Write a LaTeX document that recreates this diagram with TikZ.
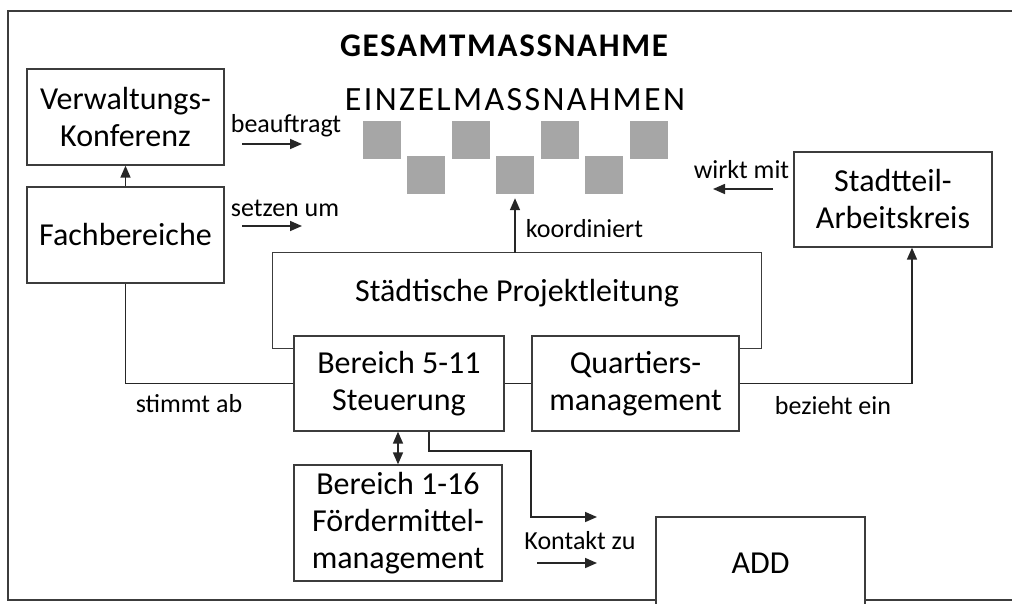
\documentclass[tikz,border=0pt]{standalone}
\usepackage{fontspec}
\setmainfont{Carlito}
\newfontfamily\titlefont[LetterSpace=5]{Carlito}
\newfontfamily\capsfont[LetterSpace=7]{Carlito}
\usepackage{tikz}
\usetikzlibrary{arrows.meta,positioning}
\definecolor{sqgray}{HTML}{A6A6A6}
\definecolor{linegray}{HTML}{3C3C3C}

\begin{document}
\begin{tikzpicture}[x=1pt,y=-1pt,
  box/.style={draw=linegray,line width=1.3pt,align=center,inner sep=0pt,fill=white,
    font=\fontsize{32}{37}\selectfont},
  sq/.style={fill=sqgray,minimum size=38pt,inner sep=0pt},
  lab/.style={font=\fontsize{26}{30}\selectfont,inner sep=0pt},
  con/.style={line width=1.6pt,black!85},
  arr/.style={con,-{Triangle[length=12pt,width=10pt]}}]
\useasboundingbox (0,0) rectangle (1012,603);
\clip (0,0) rectangle (1012,603);
% ---------- frame ----------
\draw[linegray,line width=1.3pt] (8,11) rectangle (1030,600);
% ---------- headings and measures ----------
\node (gesamt) at (504,46) {\fontsize{33}{36}\selectfont\titlefont\bfseries GESAMTMASSNAHME};
\node (einzel) at (515,100) {\fontsize{34}{38}\selectfont\capsfont EINZELMASSNAHMEN};
\foreach \i in {0,...,3}
  \node[sq] (t\i) at (382+89*\i,140) {};
\foreach \i in {0,...,2}
  \node[sq] (b\i) at (426+89*\i,175) {};
% ---------- left column ----------
\node[box,minimum width=197pt,minimum height=96pt] (verw) at (125.5,117) {Verwaltungs-\\Konferenz};
\node[box,minimum width=197pt,minimum height=96pt] (fach) at (125.5,235) {Fachbereiche};
\draw[arr] (fach.north) -- (verw.south);
\node[lab] (lbeauf) at (286,126) {beauftragt};
\coordinate (beaufs) at (242,144);
\coordinate (beaufe) at (302,144);
\draw[arr] (beaufs) -- (beaufe);
\node[lab] (lsetzen) at (285,208) {setzen um};
\coordinate (setzens) at (242,226);
\coordinate (setzene) at (302,226);
\draw[arr] (setzens) -- (setzene);
% ---------- project lead ----------
\node[minimum width=488pt,minimum height=95pt,inner sep=0pt] (proj) at (517,300.5) {};
\node[font=\fontsize{32}{37}\selectfont] (projtxt) at (517,293) {Städtische Projektleitung};
\node[box,minimum width=210pt,minimum height=95pt] (bereich) at (399,383.5) {Bereich 5-11\\Steuerung};
\node[box,minimum width=207pt,minimum height=95pt] (quartier) at (635.5,383.5) {Quartiers-\\management};
\draw[linegray,line width=1.3pt] (bereich.west |- proj.south) -| (proj.north west) -| (proj.south east) -- (quartier.east |- proj.south);
\draw[arr,shorten >=4pt] (proj.north -| b1) -- (b1.south);
\node[lab] (lkoord) at (584.5,229) {koordiniert};
\draw[con] (fach.south) |- (bereich.west);
\draw[con] (bereich.east) -- (quartier.west);
\node[lab] (lstimmt) at (189,404) {stimmt ab};
% ---------- right side ----------
\node[box,minimum width=198pt,minimum height=95pt] (stadt) at (893,199.5) {Stadtteil-\\Arbeitskreis};
\draw[arr] (quartier.east) -| ([xshift=19pt]stadt.south);
\node[lab] (lbezieht) at (833,406) {bezieht ein};
\node[lab] (lwirkt) at (741.5,170) {wirkt mit};
\coordinate (wirkts) at (773,189);
\coordinate (wirkte) at (713,189);
\draw[arr] (wirkts) -- (wirkte);
% ---------- bottom ----------
\node[box,minimum width=208pt,minimum height=116pt] (foerder) at (398,523) {Bereich 1-16\\Fördermittel-\\management};
\draw[con,{Triangle[length=12pt,width=10pt]}-{Triangle[length=12pt,width=10pt]}] (bereich.south -| foerder.north) -- (foerder.north);
\node[box,minimum width=209pt,minimum height=92pt] (add) at (760.5,563) {ADD};
\coordinate (kbend) at (531,451);
\coordinate (kend) at (597,517);
\draw[arr] ([xshift=30pt]bereich.south) |- (kbend) |- (kend);
\node[lab] (lkontakt) at (580,541) {Kontakt zu};
\coordinate (kontakts) at (537,563);
\coordinate (kontakte) at (597,563);
\draw[arr] (kontakts) -- (kontakte);
\end{tikzpicture}
\end{document}
